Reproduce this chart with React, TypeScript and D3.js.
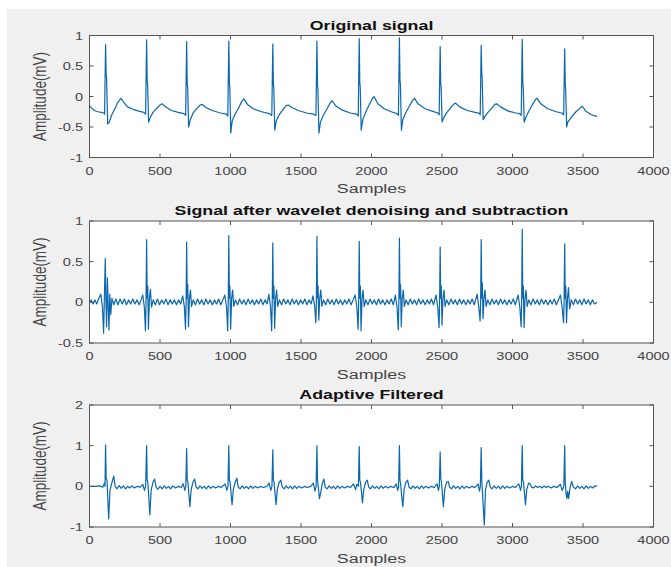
import React from "react";
import * as d3 from "d3";

// ECG record: [sample, amplitude in mV]
const originalSignal: [number, number][] = [
  [0, -0.15], [15, -0.19], [35, -0.23], [60, -0.25], [85, -0.26], [100, -0.27], [107, -0.29],
  [114, 0.85], [118, 0.36], [121, 0.3], [129, -0.45], [140, -0.42], [158, -0.3], [180, -0.2], [200, -0.1], [222, -0.03], [245, -0.1], [270, -0.17], [310, -0.21], [350, -0.24], [385, -0.26], [398, -0.29],
  [405, 0.93], [409, 0.25], [412, 0.2], [419, -0.42], [430, -0.35], [450, -0.26], [475, -0.2], [500, -0.14], [515, -0.12], [540, -0.17], [580, -0.23], [630, -0.26], [670, -0.28], [682, -0.31],
  [689, 0.9], [693, 0.2], [696, 0.15], [703, -0.5], [715, -0.38], [735, -0.27], [760, -0.2], [785, -0.14], [800, -0.13], [825, -0.18], [870, -0.23], [930, -0.27], [970, -0.29], [981, -0.32],
  [988, 0.91], [992, 0.22], [995, 0.15], [1002, -0.6], [1012, -0.4], [1030, -0.3], [1055, -0.2], [1080, -0.08], [1095, -0.04], [1120, -0.13], [1160, -0.2], [1220, -0.25], [1275, -0.28], [1293, -0.31],
  [1300, 0.86], [1304, 0.2], [1307, 0.15], [1314, -0.55], [1325, -0.4], [1345, -0.3], [1370, -0.22], [1395, -0.15], [1410, -0.14], [1435, -0.18], [1480, -0.23], [1540, -0.27], [1590, -0.29], [1606, -0.31],
  [1613, 0.91], [1617, 0.18], [1620, 0.12], [1627, -0.6], [1638, -0.42], [1660, -0.3], [1685, -0.2], [1708, -0.1], [1720, -0.07], [1745, -0.15], [1790, -0.22], [1850, -0.27], [1895, -0.29], [1906, -0.32],
  [1913, 0.95], [1917, 0.22], [1920, 0.16], [1927, -0.55], [1938, -0.38], [1958, -0.26], [1985, -0.13], [2005, -0.04], [2018, 0.0], [2045, -0.12], [2090, -0.2], [2140, -0.25], [2180, -0.28], [2191, -0.31],
  [2198, 0.96], [2202, 0.26], [2205, 0.2], [2212, -0.55], [2222, -0.38], [2242, -0.27], [2268, -0.16], [2292, -0.06], [2305, -0.03], [2330, -0.12], [2380, -0.2], [2430, -0.24], [2470, -0.27], [2480, -0.3],
  [2487, 0.82], [2491, 0.2], [2494, 0.15], [2501, -0.42], [2512, -0.35], [2532, -0.27], [2560, -0.19], [2585, -0.12], [2597, -0.11], [2625, -0.17], [2680, -0.23], [2735, -0.26], [2760, -0.27], [2771, -0.3],
  [2778, 0.84], [2782, 0.38], [2785, 0.3], [2792, -0.38], [2803, -0.33], [2823, -0.27], [2850, -0.2], [2875, -0.13], [2888, -0.12], [2915, -0.17], [2970, -0.24], [3025, -0.27], [3050, -0.28], [3062, -0.31],
  [3069, 0.94], [3073, 0.22], [3076, 0.16], [3083, -0.42], [3094, -0.35], [3114, -0.25], [3140, -0.14], [3163, -0.05], [3175, -0.03], [3200, -0.12], [3250, -0.2], [3310, -0.25], [3350, -0.27], [3363, -0.3],
  [3370, 0.78], [3374, 0.2], [3377, 0.12], [3384, -0.5], [3392, -0.42], [3405, -0.38], [3420, -0.33], [3450, -0.25], [3480, -0.19], [3495, -0.16], [3520, -0.24], [3560, -0.3], [3600, -0.33],
];

const denoisedSignal: [number, number][] = [
  [0, 0.0], [12, 0.03], [25, -0.02], [38, 0.03], [52, -0.02], [66, 0.05], [80, 0.1], [92, -0.06], [100, -0.38], [106, 0.1], [112, 0.54], [116, 0.05], [121, -0.3], [127, 0.3], [132, 0.0], [138, -0.34], [144, 0.1], [151, -0.15], [159, 0.05],
  [172, -0.03], [187, 0.04], [202, -0.03], [217, 0.04], [232, -0.02], [247, 0.04], [262, -0.03], [277, 0.03], [292, -0.02], [307, 0.04], [322, -0.02], [337, 0.03], [352, -0.03], [366, 0.03], [378, 0.09], [389, -0.06],
  [397, -0.35], [401, 0.0], [405, 0.77], [409, 0.05], [413, 0.2], [418, -0.33], [425, 0.05], [432, 0.16], [440, -0.06],
  [452, 0.03], [467, -0.03], [482, 0.04], [497, -0.03], [512, 0.03], [527, -0.02], [542, 0.04], [557, -0.03], [572, 0.03], [587, -0.02], [602, 0.03], [617, -0.03], [632, 0.03], [647, -0.02], [661, 0.08], [673, -0.06],
  [681, -0.33], [685, 0.0], [689, 0.74], [693, 0.05], [697, 0.22], [702, -0.3], [709, 0.05], [716, 0.15], [724, -0.05],
  [736, 0.03], [751, -0.03], [766, 0.04], [781, -0.02], [796, 0.03], [811, -0.03], [826, 0.04], [841, -0.02], [856, 0.03], [871, -0.03], [886, 0.03], [901, -0.02], [916, 0.04], [931, -0.03], [946, 0.03], [960, 0.09], [972, -0.06],
  [980, -0.35], [984, 0.0], [988, 0.82], [992, 0.05], [996, 0.2], [1001, -0.33], [1008, 0.05], [1015, 0.15], [1023, -0.05],
  [1035, 0.03], [1050, -0.03], [1065, 0.04], [1080, -0.02], [1095, 0.03], [1110, -0.03], [1125, 0.04], [1140, -0.02], [1155, 0.03], [1170, -0.03], [1185, 0.03], [1200, -0.02], [1215, 0.04], [1230, -0.03], [1245, 0.03], [1260, -0.02], [1272, 0.1], [1284, -0.06],
  [1292, -0.35], [1296, 0.0], [1300, 0.73], [1304, 0.05], [1308, 0.2], [1313, -0.32], [1320, 0.05], [1327, 0.15], [1335, -0.05],
  [1347, 0.03], [1362, -0.03], [1377, 0.04], [1392, -0.02], [1407, 0.03], [1422, -0.03], [1437, 0.04], [1452, -0.02], [1467, 0.03], [1482, -0.03], [1497, 0.03], [1512, -0.02], [1527, 0.04], [1542, -0.03], [1557, 0.03], [1572, -0.02], [1585, 0.08], [1597, -0.05],
  [1605, -0.25], [1609, 0.0], [1613, 0.81], [1617, 0.05], [1621, 0.2], [1626, -0.22], [1633, 0.05], [1640, 0.15], [1648, -0.05],
  [1660, 0.03], [1675, -0.03], [1690, 0.04], [1705, -0.02], [1720, 0.03], [1735, -0.03], [1750, 0.04], [1765, -0.02], [1780, 0.03], [1795, -0.03], [1810, 0.03], [1825, -0.02], [1840, 0.04], [1855, -0.03], [1870, 0.03], [1884, 0.09], [1896, -0.06],
  [1905, -0.33], [1909, 0.0], [1913, 0.75], [1917, 0.05], [1921, 0.2], [1926, -0.35], [1933, 0.05], [1940, 0.15], [1948, -0.05],
  [1960, 0.03], [1975, -0.03], [1990, 0.04], [2005, -0.02], [2020, 0.03], [2035, -0.03], [2050, 0.04], [2065, -0.02], [2080, 0.03], [2095, -0.03], [2110, 0.03], [2125, -0.02], [2140, 0.04], [2155, -0.03], [2169, 0.09], [2181, -0.06],
  [2190, -0.34], [2194, 0.0], [2198, 0.79], [2202, 0.05], [2206, 0.22], [2211, -0.3], [2218, 0.05], [2225, 0.15], [2233, -0.05],
  [2245, 0.03], [2260, -0.03], [2275, 0.04], [2290, -0.02], [2305, 0.03], [2320, -0.03], [2335, 0.04], [2350, -0.02], [2365, 0.03], [2380, -0.03], [2395, 0.03], [2410, -0.02], [2425, 0.04], [2440, -0.03], [2458, 0.09], [2470, -0.06],
  [2479, -0.31], [2483, 0.0], [2487, 0.68], [2491, 0.05], [2495, 0.2], [2500, -0.28], [2507, 0.05], [2514, 0.15], [2522, -0.05],
  [2534, 0.03], [2549, -0.03], [2564, 0.04], [2579, -0.02], [2594, 0.03], [2609, -0.03], [2624, 0.04], [2639, -0.02], [2654, 0.03], [2669, -0.03], [2684, 0.03], [2699, -0.02], [2714, 0.04], [2729, -0.03], [2749, 0.1], [2761, -0.06],
  [2770, -0.23], [2774, 0.0], [2778, 0.77], [2782, 0.05], [2786, 0.24], [2791, -0.2], [2798, 0.05], [2805, 0.15], [2813, -0.05],
  [2825, 0.03], [2840, -0.03], [2855, 0.04], [2870, -0.02], [2885, 0.03], [2900, -0.03], [2915, 0.04], [2930, -0.02], [2945, 0.03], [2960, -0.03], [2975, 0.03], [2990, -0.02], [3005, 0.04], [3020, -0.03], [3040, 0.09], [3052, -0.06],
  [3061, -0.3], [3065, 0.0], [3069, 0.9], [3073, 0.05], [3077, 0.2], [3082, -0.31], [3089, 0.05], [3096, 0.15], [3104, -0.05],
  [3116, 0.03], [3131, -0.03], [3146, 0.04], [3161, -0.02], [3176, 0.03], [3191, -0.03], [3206, 0.04], [3221, -0.02], [3236, 0.03], [3251, -0.03], [3266, 0.03], [3281, -0.02], [3296, 0.04], [3311, -0.03], [3340, 0.09], [3352, -0.06],
  [3362, -0.25], [3366, 0.0], [3370, 0.72], [3374, 0.05], [3378, 0.2], [3383, -0.25], [3390, 0.05], [3397, 0.18], [3405, -0.08],
  [3417, 0.03], [3432, -0.03], [3447, 0.04], [3462, -0.02], [3477, 0.03], [3492, -0.03], [3507, 0.04], [3522, -0.02], [3537, 0.03], [3552, -0.03], [3567, 0.03], [3582, -0.02], [3600, 0.0],
];

const adaptiveSignal: [number, number][] = [
  [0, 0.0], [40, 0.0], [70, 0.01], [95, -0.02], [105, 0.08], [110, 0.0], [114, 1.02], [118, 0.2], [124, 0.15], [136, -0.8], [145, -0.1], [160, 0.1], [172, 0.25], [182, 0.0],
  [195, -0.06], [210, 0.02], [225, -0.05], [240, 0.01], [255, -0.06], [270, 0.0], [285, -0.04], [300, 0.01], [320, -0.04], [340, 0.0], [360, -0.02], [378, 0.05], [390, -0.1], [398, 0.0],
  [405, 1.0], [409, 0.15], [414, 0.1], [428, -0.7], [437, -0.1], [450, 0.1], [462, 0.18], [472, -0.02],
  [485, -0.07], [500, 0.0], [515, -0.06], [530, 0.01], [545, -0.05], [560, 0.0], [575, -0.06], [590, 0.01], [610, -0.04], [630, 0.0], [650, -0.03], [665, 0.06], [676, -0.1], [683, 0.0],
  [689, 0.93], [693, 0.15], [698, 0.1], [712, -0.5], [721, -0.08], [734, 0.1], [746, 0.18], [756, -0.02],
  [769, -0.06], [784, 0.01], [799, -0.05], [814, 0.0], [829, -0.06], [844, 0.01], [859, -0.05], [874, 0.0], [894, -0.04], [914, 0.0], [934, -0.03], [962, 0.06], [974, -0.1], [982, 0.0],
  [988, 1.0], [992, 0.15], [997, 0.1], [1011, -0.45], [1020, -0.08], [1033, 0.1], [1045, 0.2], [1055, -0.02],
  [1068, -0.06], [1083, 0.01], [1098, -0.05], [1113, 0.0], [1128, -0.06], [1143, 0.01], [1158, -0.05], [1173, 0.0], [1193, -0.04], [1213, 0.0], [1233, -0.03], [1258, 0.0], [1274, 0.08], [1286, -0.1], [1294, 0.0],
  [1300, 0.9], [1304, 0.15], [1309, 0.1], [1323, -0.45], [1332, -0.08], [1345, 0.1], [1357, 0.15], [1367, -0.02],
  [1380, -0.06], [1395, 0.01], [1410, -0.05], [1425, 0.0], [1440, -0.06], [1455, 0.01], [1470, -0.05], [1485, 0.0], [1505, -0.04], [1525, 0.0], [1545, -0.03], [1570, 0.0], [1587, 0.08], [1599, -0.12], [1607, 0.0],
  [1613, 1.0], [1617, 0.15], [1622, 0.0], [1631, -0.3], [1640, -0.15], [1650, 0.05], [1662, 0.18], [1672, -0.02],
  [1685, -0.06], [1700, 0.01], [1715, -0.05], [1730, 0.0], [1745, -0.06], [1760, 0.01], [1775, -0.05], [1790, 0.0], [1810, -0.04], [1830, 0.0], [1850, -0.03], [1872, 0.06], [1887, -0.08], [1895, 0.05], [1907, 0.0],
  [1913, 0.98], [1917, 0.15], [1922, 0.1], [1936, -0.4], [1945, -0.08], [1958, 0.1], [1970, 0.15], [1980, -0.02],
  [1993, -0.06], [2008, 0.01], [2023, -0.05], [2038, 0.0], [2053, -0.06], [2068, 0.01], [2083, -0.05], [2098, 0.0], [2118, -0.04], [2138, 0.0], [2158, -0.03], [2176, 0.06], [2186, -0.1], [2192, 0.0],
  [2198, 1.0], [2202, 0.15], [2207, 0.05], [2213, -0.2], [2222, -0.5], [2231, -0.08], [2244, 0.1], [2256, 0.15], [2266, -0.02],
  [2279, -0.06], [2294, 0.01], [2309, -0.05], [2324, 0.0], [2339, -0.06], [2354, 0.01], [2369, -0.05], [2384, 0.0], [2404, -0.04], [2424, 0.0], [2444, -0.03], [2465, 0.06], [2475, -0.1], [2481, 0.0],
  [2487, 0.85], [2491, 0.2], [2496, 0.1], [2510, -0.5], [2519, -0.08], [2532, 0.1], [2544, 0.12], [2554, -0.02],
  [2567, -0.06], [2582, 0.01], [2597, -0.05], [2612, 0.0], [2627, -0.06], [2642, 0.01], [2657, -0.05], [2672, 0.0], [2692, -0.04], [2712, 0.0], [2732, -0.03], [2756, 0.06], [2766, -0.12], [2772, 0.0],
  [2778, 0.95], [2782, 0.15], [2786, -0.1], [2800, -0.95], [2808, -0.1], [2820, 0.1], [2832, 0.15], [2842, -0.02],
  [2855, -0.06], [2870, 0.01], [2885, -0.05], [2900, 0.0], [2915, -0.06], [2930, 0.01], [2945, -0.05], [2960, 0.0], [2980, -0.04], [3000, 0.0], [3020, -0.03], [3045, 0.06], [3057, -0.1], [3063, 0.0],
  [3069, 1.0], [3073, 0.15], [3078, 0.1], [3092, -0.45], [3101, -0.08], [3114, 0.08], [3126, 0.05], [3136, -0.02],
  [3149, -0.04], [3164, 0.01], [3179, -0.03], [3194, 0.0], [3209, -0.04], [3224, 0.01], [3239, -0.03], [3254, 0.0], [3274, -0.04], [3294, 0.0], [3314, -0.03], [3340, 0.05], [3352, -0.1], [3364, 0.0],
  [3370, 1.0], [3374, 0.1], [3379, -0.15], [3386, -0.3], [3392, -0.12], [3398, -0.3], [3408, -0.05], [3420, 0.12], [3432, -0.02],
  [3447, -0.06], [3462, 0.01], [3477, -0.05], [3492, 0.0], [3507, -0.06], [3522, 0.01], [3537, -0.05], [3552, 0.0], [3570, -0.04], [3585, 0.01], [3600, 0.0],
];

const titles = ["Original signal", "Signal after wavelet denoising and subtraction", "Adaptive Filtered"];
const yDomains: [number, number][] = [[-1, 1], [-0.5, 1], [-1, 2]];
const yTickValues = [[-1, -0.5, 0, 0.5, 1], [-0.5, 0, 0.5, 1], [-1, 0, 1, 2]];
const xTickValues = [0, 500, 1000, 1500, 2000, 2500, 3000, 3500, 4000];
const signals = [originalSignal, denoisedSignal, adaptiveSignal];

const W = 671;
const H = 567;
const SX = 1.32; // the reference figure is stretched sideways
const FONT = "'Liberation Sans', Arial, Helvetica, sans-serif";
const panelTops = [35.5, 221, 405];
const panelHeight = 122;
const left = 89.5;
const right = 653.5;

function Label({ x, y, text, size, anchor = "middle", weight = "normal", fill = "#444" }: any) {
  return (
    <text
      transform={`translate(${x},${y}) scale(${SX},1)`}
      textAnchor={anchor}
      fontSize={size}
      fontWeight={weight}
      fontFamily={FONT}
      fill={fill}
    >
      {text}
    </text>
  );
}

function Panel({ idx }: { idx: number }) {
  const top = panelTops[idx];
  const bottom = top + panelHeight;
  const x = d3.scaleLinear().domain([0, 4000]).range([left, right]);
  const y = d3.scaleLinear().domain(yDomains[idx]).range([bottom, top]);
  const line = d3.line<[number, number]>().x((d) => x(d[0])).y((d) => y(d[1]));
  const tick = 4;
  const fmt = (v: number) => String(v);
  return (
    <g>
      <rect x={left} y={top} width={right - left} height={panelHeight} fill="#fff" />
      <path d={line(signals[idx]) || ""} fill="none" stroke="#0a66ad" strokeWidth={1.2} strokeLinejoin="round" />
      {xTickValues.map((t) => (
        <g key={"x" + t}>
          <line x1={x(t)} x2={x(t)} y1={bottom} y2={bottom - tick} stroke="#555" />
          <line x1={x(t)} x2={x(t)} y1={top} y2={top + tick} stroke="#555" />
          <Label x={x(t)} y={bottom + 17} text={fmt(t)} size={11} />
        </g>
      ))}
      {yTickValues[idx].map((t) => (
        <g key={"y" + t}>
          <line x1={left} x2={left + tick} y1={y(t)} y2={y(t)} stroke="#555" />
          <line x1={right} x2={right - tick} y1={y(t)} y2={y(t)} stroke="#555" />
          <Label x={83} y={y(t) + 4} text={fmt(t)} size={11} anchor="end" />
        </g>
      ))}
      <rect x={left} y={top} width={right - left} height={panelHeight} fill="none" stroke="#555" strokeWidth={1} />
      <Label x={(left + right) / 2} y={top - 6} text={titles[idx]} size={13.5} weight="bold" fill="#111" />
      <Label x={(left + right) / 2} y={bottom + 35.5} text="Samples" size={13.5} />
      <text
        transform={`translate(46,${(top + bottom) / 2}) scale(${SX},1) rotate(-90)`}
        textAnchor="middle"
        fontSize={13.5}
        fontFamily={FONT}
        fill="#444"
      >
        Amplitude(mV)
      </text>
    </g>
  );
}

export default function App() {
  return (
    <svg width={W} height={H} style={{ position: "absolute", left: 0, top: 0, display: "block" }}>
      <rect x={0} y={0} width={W} height={H} fill="#fff" />
      <rect x={7} y={9} width={W - 7} height={H - 9} fill="#f0f0f0" />
      {[0, 1, 2].map((i) => (
        <Panel key={i} idx={i} />
      ))}
    </svg>
  );
}
